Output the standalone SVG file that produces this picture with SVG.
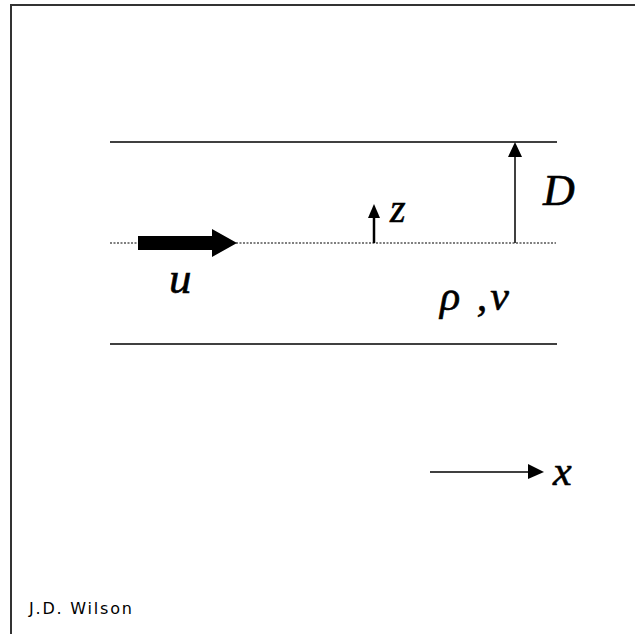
<svg xmlns="http://www.w3.org/2000/svg" width="635" height="634" viewBox="0 0 635 634">
<defs>
<style>
.frame{stroke:#333;stroke-width:2;fill:none}
.wall{stroke:#000;stroke-width:1.5;fill:none}
.axis{stroke:#555;stroke-width:1.5;stroke-dasharray:2 1.5;fill:none}
.thin{stroke:#000;stroke-width:1.5;fill:none}
.sym{font-family:"Liberation Serif","Times New Roman",serif;font-style:italic;fill:#000;stroke:#000;stroke-width:0.6}
.credit{font-family:"DejaVu Sans",sans-serif;font-size:16px;fill:#000;letter-spacing:1.8px}
</style>
</defs>
<rect width="635" height="634" fill="#fff"/>
<g id="frame">
<path class="frame" d="M11,634 V5 H635"/>
</g>
<g id="walls">
<line class="wall" x1="110" y1="142" x2="557" y2="142"/>
<line class="wall" x1="110" y1="344" x2="557" y2="344"/>
<line class="axis" x1="110" y1="243" x2="556" y2="243"/>
</g>
<g id="connectors">
<polygon id="flow-arrow" points="138,236 212,236 212,229 237,243 212,257 212,250 138,250" fill="#000"/>
<path d="M374,243 V218" stroke="#000" stroke-width="2.5" fill="none"/>
<polygon points="368,218 380,218 374,204" fill="#000"/>
<line class="thin" x1="515" y1="243" x2="515" y2="156"/>
<polygon points="508,157 522,157 515,142" fill="#000"/>
<line class="thin" x1="430" y1="472" x2="529" y2="472"/>
<polygon points="528,464 528,479 544,472" fill="#000"/>
</g>
<g id="labels">
<text class="sym" x="169" y="293" font-size="45">u</text>
<text class="sym" x="390" y="222" font-size="40">z</text>
<text class="sym" x="543" y="205" font-size="44">D</text>
<text class="sym" x="440" y="310" font-size="42" letter-spacing="3">ρ ,ν</text>
<text class="sym" x="553" y="485" font-size="42">x</text>
<text class="credit" x="29" y="614">J.D. Wilson</text>
</g>
</svg>
